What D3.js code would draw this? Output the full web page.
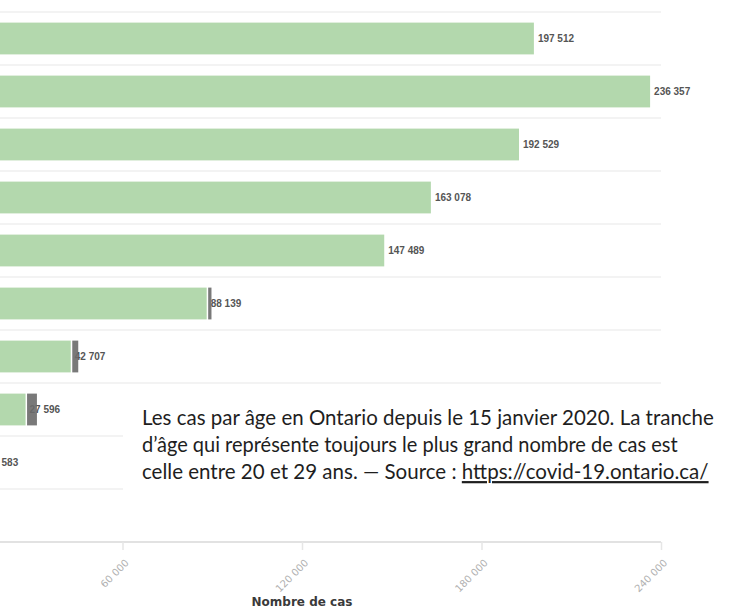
<!DOCTYPE html>
<html lang="fr">
<head>
<meta charset="utf-8">
<script src="https://cdn.jsdelivr.net/npm/d3@7"></script>
<style>
  html, body { margin: 0; padding: 0; background: #fff; }
  svg { display: block; }
</style>
</head>
<body>
<div id="chart"></div>
<script>
// ---- Data ----
const categories = ["0 à 19 ans", "20 à 29 ans", "30 à 39 ans", "40 à 49 ans", "50 à 59 ans",
                    "60 à 69 ans", "70 à 79 ans", "80 à 89 ans", "90 ans et plus", "Inconnu"];
const cases = [197512, 236357, 192529, 163078, 147489, 88139, 42707, 27596, 13583, 900];
const greySegment = [0, 0, 0, 0, 0, 1100, 2000, 3300, 2800, 0];
const xTicks = [60000, 120000, 180000, 240000];
const axisTitle = "Nombre de cas";
const captionLines = [
  "Les cas par âge en Ontario depuis le 15 janvier 2020. La tranche",
  "d’âge qui représente toujours le plus grand nombre de cas est"
];
const captionLast = "celle entre 20 et 29 ans. — Source : ";
const captionUrl = "https://covid-19.ontario.ca/";

// ---- Layout ----
const W = 737, H = 611;
const svg = d3.select("#chart").append("svg").attr("width", W).attr("height", H);

const fr = d3.formatLocale({ decimal: ",", thousands: " ", grouping: [3], currency: ["", " $"] });
const fmt = fr.format(",d");

const x = d3.scaleLinear().domain([0, 240000]).range([-57, 661]);
const y = d3.scaleBand().domain(categories).range([12, 542]).paddingInner(0.4).paddingOuter(0.2);
const step = y.step();
const top0 = y.range()[0];

// gridlines between rows
const gridY = d3.range(categories.length).map(i => top0 + i * step);
svg.append("g").selectAll("line").data(gridY).join("line")
  .attr("x1", 0).attr("x2", x(240000))
  .attr("y1", d => d).attr("y2", d => d)
  .attr("stroke", "#efefef").attr("stroke-width", 1.5);

// green bars
svg.append("g").selectAll("rect").data(categories).join("rect")
  .attr("x", x(0))
  .attr("y", d => y(d))
  .attr("width", (d, i) => x(cases[i]) - x(0))
  .attr("height", y.bandwidth())
  .attr("fill", "#b3d8ad");

// value labels
svg.append("g").selectAll("text").data(categories).join("text")
  .attr("x", (d, i) => x(cases[i]) + 4)
  .attr("y", d => y(d) + y.bandwidth() / 2)
  .attr("dy", "0.35em")
  .attr("font-family", "Liberation Sans, Arial, sans-serif")
  .attr("font-size", 10)
  .attr("font-weight", "bold")
  .attr("fill", "#555")
  .text((d, i) => fmt(cases[i]));

// grey segments
svg.append("g").selectAll("rect").data(categories.filter((d, i) => greySegment[i] > 0)).join("rect")
  .attr("x", d => x(cases[categories.indexOf(d)]) + 1.5)
  .attr("y", d => y(d))
  .attr("width", d => { const i = categories.indexOf(d); return x(cases[i] + greySegment[i]) - x(cases[i]); })
  .attr("height", y.bandwidth())
  .attr("fill", "#6a6a6a")
  .attr("fill-opacity", 0.9);

// y axis (labels fall outside the visible crop)
svg.append("g").attr("transform", `translate(${x(0)},0)`)
  .call(d3.axisLeft(y).tickSize(0))
  .call(g => g.select(".domain").remove())
  .selectAll("text").attr("fill", "#666");

// x axis
const axisY = y.range()[1];
const xAxis = svg.append("g").attr("transform", `translate(0,${axisY})`)
  .call(d3.axisBottom(x).tickValues(xTicks).tickSize(8).tickFormat(fmt));
xAxis.select(".domain").attr("stroke", "#e2e2e2").attr("stroke-width", 2)
  .attr("d", `M0,0H${x(240000)}`);
xAxis.selectAll(".tick line").attr("stroke", "#e6e6e6").attr("stroke-width", 1.5);
xAxis.selectAll(".tick text")
  .attr("font-family", "DejaVu Sans, sans-serif")
  .attr("font-size", 10)
  .attr("fill", "#b0b0b0")
  .attr("text-anchor", "end")
  .attr("y", 0).attr("dy", "0.35em")
  .attr("transform", "translate(4,19) rotate(-45)");

svg.append("text")
  .attr("x", (x(0) + x(240000)) / 2)
  .attr("y", 606)
  .attr("text-anchor", "middle")
  .attr("font-family", "DejaVu Sans, sans-serif")
  .attr("font-weight", "bold")
  .attr("font-size", 12)
  .attr("fill", "#3a3a3a")
  .text(axisTitle);

// caption box
svg.append("rect").attr("x", 123).attr("y", 390).attr("width", W - 123).attr("height", 140).attr("fill", "#fff");

const capX = 142;
const baselines = [425, 452, 479];
const targets = [572, 536, 567];
const capFont = "Lato, 'Noto Sans', sans-serif";
const capG = svg.append("g");
function fitLine(t, i) {
  const n = t.node().getComputedTextLength();
  t.attr("transform", `translate(${capX},${baselines[i]}) scale(${targets[i] / n},1)`);
}
captionLines.forEach((s, i) => {
  const t = capG.append("text").attr("x", 0).attr("y", 0)
    .attr("font-family", capFont).attr("font-size", 22).attr("fill", "#1e1e1e").text(s);
  fitLine(t, i);
});
const last = capG.append("text").attr("x", 0).attr("y", 0)
  .attr("font-family", capFont).attr("font-size", 22).attr("fill", "#1e1e1e");
last.append("tspan").text(captionLast);
last.append("tspan").attr("text-decoration", "underline").text(captionUrl);
fitLine(last, 2);
</script>
</body>
</html>
